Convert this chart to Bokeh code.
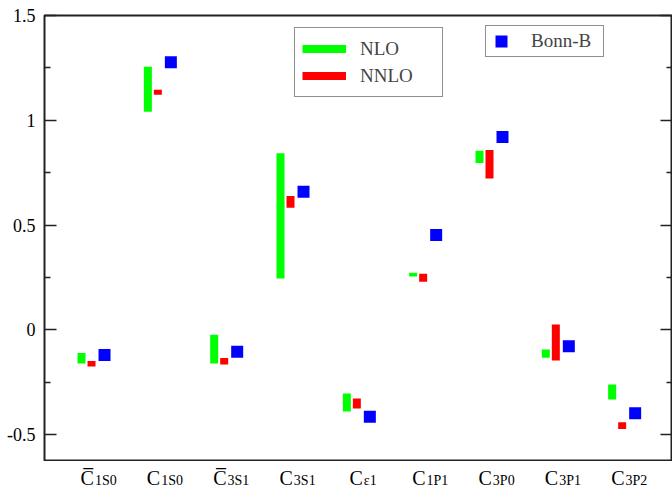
from bokeh.plotting import figure
from bokeh.layouts import column
from bokeh.models import (Range1d, LinearAxis, FixedTicker, Legend, LegendItem,
                          ColumnDataSource)
from bokeh.core.properties import value
from bokeh.embed import file_html
from bokeh.resources import INLINE

# ---- data ----
label_main = ["C\u0305", "C", "C\u0305", "C", "C", "C", "C", "C", "C"]
label_sub = ["1S0", "1S0", "3S1", "3S1", "\u03b51", "1P1", "3P0", "3P1", "3P2"]
nlo_low = [-0.161, 1.041, -0.161, 0.245, -0.390, 0.254, 0.796, -0.134, -0.333]
nlo_high = [-0.111, 1.255, -0.024, 0.842, -0.304, 0.272, 0.854, -0.094, -0.261]
nnlo_low = [-0.175, 1.122, -0.166, 0.582, -0.376, 0.229, 0.722, -0.147, -0.474]
nnlo_high = [-0.149, 1.146, -0.135, 0.638, -0.328, 0.267, 0.858, 0.025, -0.442]
bonn_b = [-0.121, 1.277, -0.105, 0.659, -0.415, 0.452, 0.920, -0.079, -0.399]
y_ticks = [-0.5, 0, 0.5, 1, 1.5]
y_tick_labels = ["-0.5", "0", "0.5", "1", "1.5"]
y_minor = [-0.25, 0.25, 0.75, 1.25]

# ---- layout constants ----
PX = 66.33                     # pixels per category step
idx = list(range(1, len(label_sub) + 1))
green_off = -10 / PX
blue_off = 13 / PX
bar_w = 8 / PX
FONT = "Liberation Serif"
W = 672
H_MAIN = 461
H_LAB = 27

src = ColumnDataSource(dict(
    xg=[i + green_off for i in idx],
    xr=idx,
    xb=[i + blue_off for i in idx],
    nlo_low=nlo_low, nlo_high=nlo_high,
    nnlo_low=nnlo_low, nnlo_high=nnlo_high,
    bonn=bonn_b,
))

xr = Range1d(0.291, 9.759)
p = figure(width=W, height=H_MAIN, output_backend="svg", toolbar_location=None,
           title=None, x_axis_location=None,
           x_range=xr, y_range=Range1d(-0.624, 1.5),
           min_border_left=44, min_border_right=0, min_border_top=15,
           min_border_bottom=1)
p.background_fill_color = "white"
p.border_fill_color = "white"
p.outline_line_color = "#222222"
p.outline_line_width = 2
p.grid.visible = False

ticker = FixedTicker(ticks=y_ticks, minor_ticks=y_minor)


def style_axis(ax):
    ax.ticker = ticker
    ax.axis_line_color = None
    ax.major_tick_in = 12
    ax.major_tick_out = 0
    ax.minor_tick_in = 6
    ax.minor_tick_out = 0
    ax.major_tick_line_color = "#222222"
    ax.minor_tick_line_color = "#222222"
    ax.major_tick_line_width = 1.5
    ax.minor_tick_line_width = 1.5
    ax.major_label_text_font = FONT
    ax.major_label_text_font_size = "18px"
    ax.major_label_text_color = "black"


yl = p.yaxis[0]
style_axis(yl)
yl.major_label_overrides = {t: s for t, s in zip(y_ticks, y_tick_labels)}
yl.major_label_standoff = 9

yr = LinearAxis()
style_axis(yr)
yr.major_label_overrides = {t: "" for t in y_ticks}
yr.major_label_standoff = 0
p.add_layout(yr, "right")

gbar = p.vbar(x="xg", width=bar_w, bottom="nlo_low", top="nlo_high", source=src,
              fill_color="#00ff00", line_color=None)
rbar = p.vbar(x="xr", width=bar_w, bottom="nnlo_low", top="nnlo_high", source=src,
              fill_color="#ff0000", line_color=None)
sq = p.scatter(x="xb", y="bonn", source=src, marker="square", size=12,
               fill_color="#0000ff", line_color=None)

# legend proxies (no visible data)
nan = float("nan")
lg = p.line(x=[nan], y=[nan], line_color="#00ff00", line_width=8)
lr = p.line(x=[nan], y=[nan], line_color="#ff0000", line_width=8)

leg1 = Legend(items=[LegendItem(label="NLO", renderers=[lg]),
                     LegendItem(label="NNLO", renderers=[lr])],
              location=(250, 363), padding=7, spacing=0, margin=0,
              label_height=27, glyph_height=27, glyph_width=44,
              label_standoff=14, label_width=75,
              border_line_color="#222222", border_line_width=1.5,
              background_fill_color="white", background_fill_alpha=1,
              label_text_font=FONT, label_text_font_size="19px")
leg2 = Legend(items=[LegendItem(label="Bonn-B", renderers=[sq])],
              location=(441, 403), padding=0, spacing=0, margin=0,
              label_height=30, glyph_height=30, glyph_width=30,
              label_standoff=15, label_width=72,
              border_line_color="#222222", border_line_width=1.5,
              background_fill_color="white", background_fill_alpha=1,
              label_text_font=FONT, label_text_font_size="19px")
p.add_layout(leg1)
p.add_layout(leg2)

# ---- strip below the frame holding the category labels ----
junction = [7 + (12.3 - 7.2 * len(s)) / 2 for s in label_sub]
lab_src = ColumnDataSource(dict(
    x=idx, main=label_main, sub=label_sub,
    off_main=junction, off_sub=[j + 1 for j in junction],
    y_main=[11] * len(idx), y_sub=[8] * len(idx),
))
p2 = figure(width=W, height=H_LAB, output_backend="svg", toolbar_location=None,
            title=None, x_axis_location=None, y_axis_location=None,
            x_range=xr, y_range=Range1d(0, H_LAB),
            min_border_left=44, min_border_right=0, min_border_top=0,
            min_border_bottom=0)
p2.outline_line_color = None
p2.background_fill_color = "white"
p2.border_fill_color = "white"
p2.grid.visible = False
p2.text(x="x", y="y_main", text="main", x_offset="off_main", source=lab_src,
        text_align="right", text_baseline="alphabetic",
        text_font=value(FONT), text_font_size="20px", text_color="black")
p2.text(x="x", y="y_sub", text="sub", x_offset="off_sub", source=lab_src,
        text_align="left", text_baseline="alphabetic",
        text_font=value(FONT), text_font_size="14px", text_color="black")

layout = column(p, p2, spacing=0)
open("out.html", "w").write(file_html(layout, INLINE))
